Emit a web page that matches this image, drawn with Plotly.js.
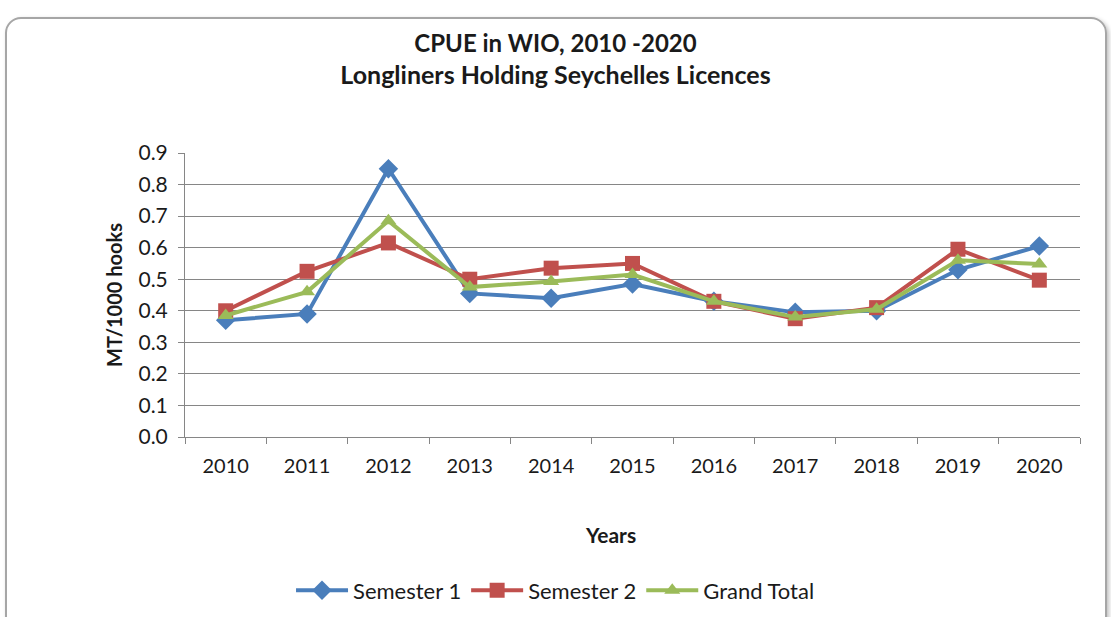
<!DOCTYPE html>
<html>
<head>
<meta charset="utf-8">
<script src="https://cdn.plot.ly/plotly-3.0.1.min.js"></script>
<style>
html,body{margin:0;padding:0;background:#fff;}
#wrap{position:relative;width:1111px;height:617px;}
#frame{position:absolute;left:5px;top:17px;width:1098px;height:620px;border:2px solid #a6a6a6;border-radius:16px;box-shadow:2px 2px 4px rgba(0,0,0,0.25);pointer-events:none;}
#chart{position:absolute;left:0;top:0;width:1111px;height:617px;}
</style>
</head>
<body>
<div id="wrap">
<div id="frame"></div>
<div id="chart"></div>
</div>
<script>
const years = ['2010','2011','2012','2013','2014','2015','2016','2017','2018','2019','2020'];
const semester1 = [0.37, 0.39, 0.85, 0.455, 0.44, 0.485, 0.43, 0.395, 0.40, 0.53, 0.605];
const semester2 = [0.40, 0.525, 0.615, 0.50, 0.535, 0.55, 0.43, 0.375, 0.41, 0.595, 0.497];
const grandTotal = [0.385, 0.46, 0.685, 0.475, 0.493, 0.515, 0.43, 0.38, 0.405, 0.56, 0.548];
const yTicks = [0,0.1,0.2,0.3,0.4,0.5,0.6,0.7,0.8,0.9];

const FONT = 'Lato, "Open Sans", Arial, sans-serif';
const traces = [
  {x: years, y: semester1, name: 'Semester 1', type: 'scatter', mode: 'lines+markers',
   line: {color: '#4a7ebb', width: 4}, marker: {symbol: 'diamond', size: 15, color: '#4a7ebb'}},
  {x: years, y: semester2, name: 'Semester 2', type: 'scatter', mode: 'lines+markers',
   line: {color: '#c0504d', width: 4}, marker: {symbol: 'square', size: 15, color: '#c0504d'}},
  {x: years, y: grandTotal, name: 'Grand Total', type: 'scatter', mode: 'lines+markers',
   line: {color: '#9bbb59', width: 4}, marker: {symbol: 'triangle-up', size: 14, color: '#9bbb59'}}
];

const layout = {
  width: 1111, height: 617,
  paper_bgcolor: 'rgba(0,0,0,0)', plot_bgcolor: '#fff',
  margin: {l: 185, r: 31, t: 153, b: 180, autoexpand: false},
  font: {family: FONT, size: 20, color: '#1a1a1a'},
  title: {text: '<b>CPUE in WIO, 2010 -2020</b><br><b><span style="font-size:25px">Longliners Holding Seychelles Licences</span></b>',
          x: 0.5, xref: 'container', xanchor: 'center', y: 0.915, yref: 'container', yanchor: 'middle',
          font: {family: FONT, size: 24, color: '#1a1a1a'}},
  xaxis: {type: 'category', range: [-0.5, 10.5], tickson: 'boundaries', ticks: 'outside', ticklen: 6,
          tickcolor: '#868686', showline: true, linecolor: '#868686', linewidth: 1, showgrid: false,
          ticklabelstandoff: 11, tickfont: {size: 20}, tickangle: 0, automargin: false},
  yaxis: {range: [0, 0.9], tickvals: yTicks, tickformat: '.1f', ticks: 'outside', ticklen: 6,
          tickcolor: '#868686', showline: true, linecolor: '#868686', linewidth: 1,
          gridcolor: '#868686', gridwidth: 1, zeroline: false, tickfont: {size: 21},
          ticklabelstandoff: 6, automargin: false,
          title: {text: '<b>MT/1000 hooks</b>', standoff: 10, font: {size: 20}}},
  annotations: [{text: '<b>Years</b>', xref: 'paper', yref: 'paper', x: 0.475, y: -0.342,
                 xanchor: 'center', yanchor: 'middle', showarrow: false, font: {size: 21}}],
  legend: {orientation: 'h', x: 0.414, xanchor: 'center', y: -0.54, yanchor: 'middle',
           font: {size: 22}, itemwidth: 52, traceorder: 'normal'},
  showlegend: true
};
Plotly.newPlot('chart', traces, layout, {displayModeBar: false, staticPlot: true});
</script>
</body>
</html>
